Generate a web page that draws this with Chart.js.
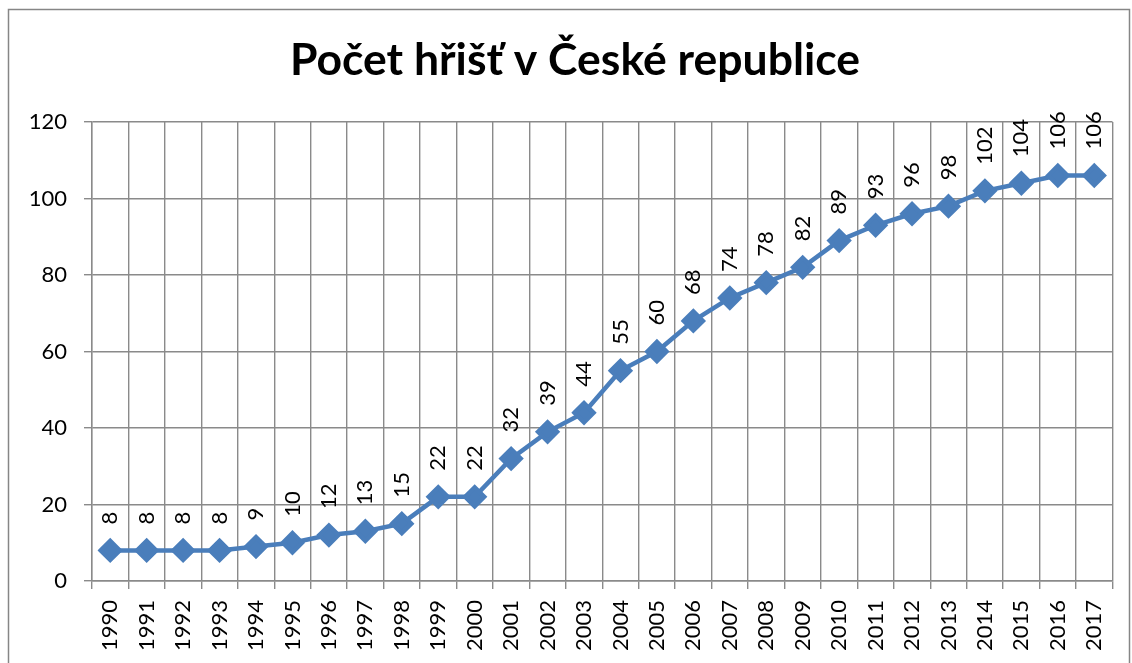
<!DOCTYPE html>
<html><head><meta charset="utf-8">
<script src="https://cdn.jsdelivr.net/npm/chart.js@4/dist/chart.umd.min.js"></script>
<style>html,body{margin:0;padding:0;background:#fff}#wrap{width:1132px;height:663px;position:relative}</style>
</head><body><div id="wrap"><canvas id="c"></canvas></div>
<script>
const years = ['1990','1991','1992','1993','1994','1995','1996','1997','1998','1999','2000','2001','2002','2003','2004','2005','2006','2007','2008','2009','2010','2011','2012','2013','2014','2015','2016','2017'];
const counts = [8,8,8,8,9,10,12,13,15,22,22,32,39,44,55,60,68,74,78,82,89,93,96,98,102,104,106,106];
const titleText = 'Počet hřišť v České republice';
const FONT = 'Lato, "Open Sans", sans-serif';

const borderPlugin = {
  id: 'outerBorder',
  beforeDraw(chart) {
    const ctx = chart.ctx;
    ctx.save();
    ctx.fillStyle = '#fff';
    ctx.fillRect(0, 0, chart.width, chart.height);
    ctx.strokeStyle = '#868686';
    ctx.lineWidth = 1.5;
    ctx.strokeRect(8.5, 9.5, 1121, 670);
    ctx.fillStyle = '#000';
    ctx.font = 'bold 44.5px ' + FONT;
    ctx.textAlign = 'center';
    ctx.textBaseline = 'middle';
    ctx.fillText(titleText, 575, 61);
    ctx.restore();
  }
};
const labelPlugin = {
  id: 'valueLabels',
  afterDatasetsDraw(chart) {
    const ctx = chart.ctx;
    const meta = chart.getDatasetMeta(0);
    const data = chart.data.datasets[0].data;
    ctx.save();
    ctx.font = '22px ' + FONT;
    ctx.fillStyle = '#000';
    ctx.textAlign = 'left';
    ctx.textBaseline = 'middle';
    meta.data.forEach((pt, i) => {
      ctx.save();
      ctx.translate(pt.x, pt.y - 26);
      ctx.rotate(-Math.PI / 2);
      ctx.fillText(String(data[i]), 0, 0);
      ctx.restore();
    });
    ctx.restore();
  }
};

new Chart(document.getElementById('c'), {
  type: 'line',
  data: {
    labels: years,
    datasets: [{
      data: counts,
      borderColor: '#4A7EBB',
      backgroundColor: '#4A7EBB',
      borderWidth: 4.5,
      pointStyle: 'rectRot',
      pointRadius: 9.5,
      pointHoverRadius: 9.5,
      tension: 0
    }]
  },
  options: {
    responsive: true,
    maintainAspectRatio: false,
    animation: false,
    devicePixelRatio: 1,
    layout: { padding: { left: 0, right: 19, top: 122, bottom: 0 } },
    plugins: {
      legend: { display: false },
      tooltip: { enabled: false },
      title: { display: false }
    },
    scales: {
      x: {
        offset: true,
        grid: { offset: true, color: '#8a8a8a', lineWidth: 1.4, tickLength: 8, drawTicks: true },
        border: { color: '#8a8a8a', width: 1.4 },
        ticks: { color: '#000', font: { family: FONT, size: 22 }, minRotation: 90, maxRotation: 90, padding: 11, autoSkip: false },
        afterFit(s) { s.height = 82; }
      },
      y: {
        min: 0, max: 120,
        grid: { color: '#8a8a8a', lineWidth: 1.4, tickLength: 8 },
        border: { color: '#8a8a8a', width: 1.4 },
        ticks: { stepSize: 20, color: '#000', font: { family: FONT, size: 22 }, padding: 17 },
        afterFit(s) { s.width = 92; }
      }
    }
  },
  plugins: [borderPlugin, labelPlugin]
});
</script>
</body></html>
